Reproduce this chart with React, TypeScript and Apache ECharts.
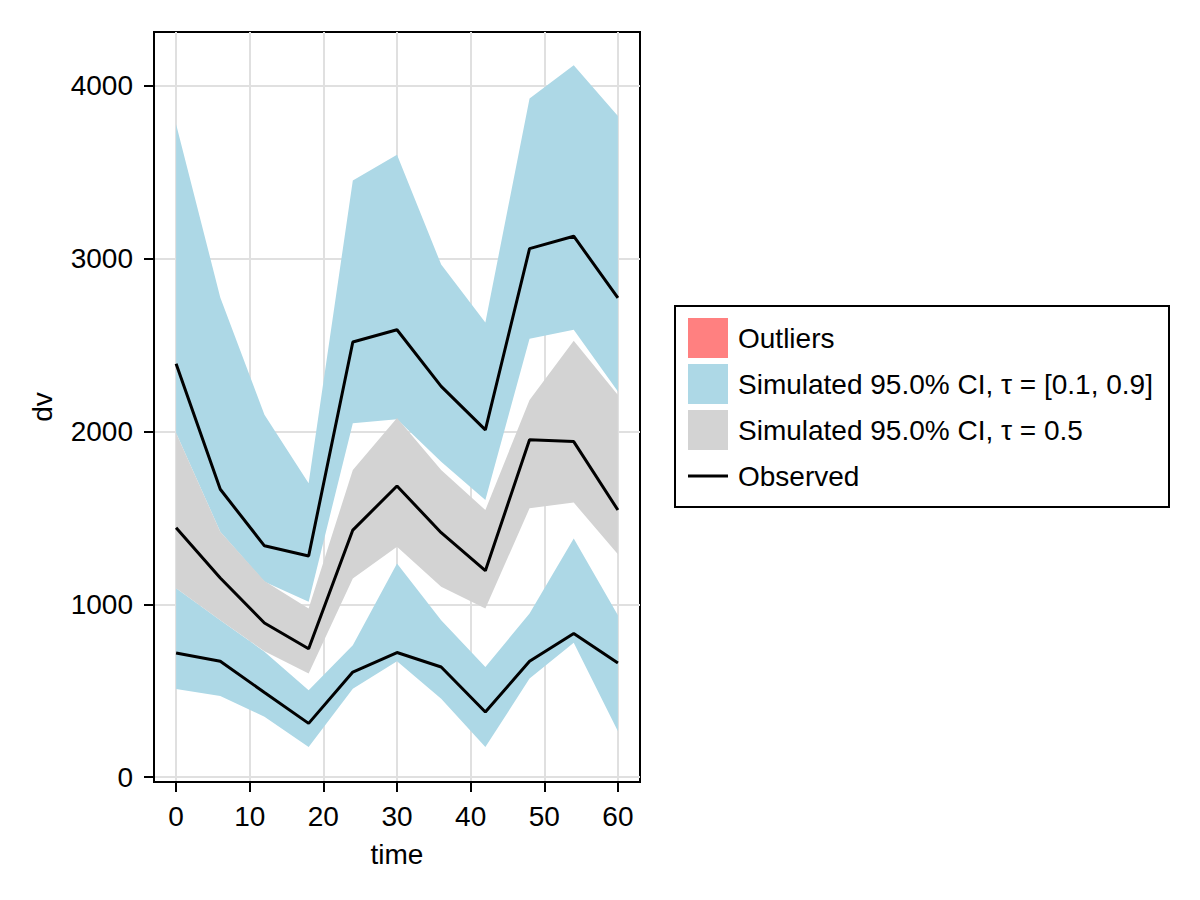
import { useEffect, useRef } from 'react';
import * as echarts from 'echarts';

// time points
const times = [0, 6, 12, 18, 24, 30, 36, 42, 48, 54, 60];

// simulated CI band, tau = 0.9
const hiBandLow = [1990, 1420, 1130, 1014, 2047, 2070, 1825, 1603, 2536, 2588, 2231];
const hiBandHigh = [3776, 2775, 2096, 1700, 3451, 3600, 2965, 2630, 3926, 4118, 3824];

// simulated CI band, tau = 0.5
const midBandLow = [1092, 908, 728, 599, 1149, 1333, 1101, 976, 1555, 1588, 1290];
const midBandHigh = [1990, 1420, 1135, 976, 1777, 2078, 1777, 1545, 2182, 2524, 2211];

// simulated CI band, tau = 0.1
const loBandLow = [510, 470, 350, 174, 512, 670, 454, 174, 570, 777, 265];
const loBandHigh = [1092, 908, 726, 502, 763, 1236, 908, 637, 947, 1381, 937];

// observed quantiles
const obsHigh = [2391, 1665, 1338, 1279, 2517, 2588, 2260, 2009, 3057, 3129, 2772];
const obsMid = [1443, 1152, 892, 743, 1429, 1684, 1414, 1194, 1951, 1941, 1545];
const obsLow = [718, 670, 490, 311, 608, 721, 637, 377, 670, 831, 661];

const xTicks = [0, 10, 20, 30, 40, 50, 60];
const yTicks = [0, 1000, 2000, 3000, 4000];

const legendLabels = [
  'Outliers',
  'Simulated 95.0% CI, τ = [0.1, 0.9]',
  'Simulated 95.0% CI, τ = 0.5',
  'Observed',
];

const BLUE = '#ADD8E6';
const GRAY = '#D3D3D3';
const RED = '#FF8080';
const FONT = 'Liberation Sans';
const FS = 28;

const pairs = (ys: number[]) => times.map((t, i) => [t, ys[i]]);

// filled band between lo and hi, drawn once as a polygon through the axes
const band = (name: string, lo: number[], hi: number[], color: string) => ({
  name,
  type: 'custom',
  silent: true,
  data: times.map((t, i) => [t, lo[i], hi[i]]),
  encode: { x: 0, y: [1, 2] },
  renderItem: (params: any, api: any) => {
    if (params.dataIndex !== 0) return null;
    const top = times.map((t, i) => api.coord([t, hi[i]]));
    const bottom = times.map((t, i) => api.coord([t, lo[i]])).reverse();
    return {
      type: 'polygon',
      shape: { points: [...top, ...bottom] },
      style: { fill: color },
    };
  },
});

const obsLine = (ys: number[]) => ({
  name: 'Observed',
  type: 'line',
  data: pairs(ys),
  symbol: 'none',
  lineStyle: { color: '#000', width: 3 },
});

export default function App() {
  const ref = useRef<HTMLDivElement>(null);

  useEffect(() => {
    if (!ref.current) return;
    const chart = echarts.init(ref.current, null, { renderer: 'svg' });
    const textStyle = { fontFamily: FONT, fontSize: FS, color: '#000' };
    const legendRows = [338, 384, 430, 476];

    chart.setOption({
      animation: false,
      textStyle: { fontFamily: FONT },
      grid: {
        left: 154,
        right: 560,
        top: 32,
        bottom: 118,
        show: true,
        borderColor: '#000',
        borderWidth: 2,
      },
      xAxis: {
        type: 'value',
        min: -3,
        max: 63,
        name: 'time',
        nameLocation: 'middle',
        nameGap: 58,
        nameTextStyle: textStyle,
        axisLine: { onZero: false, lineStyle: { color: '#000', width: 2 } },
        axisTick: { length: 10, customValues: xTicks, lineStyle: { color: '#000', width: 2 } },
        axisLabel: { ...textStyle, margin: 20, customValues: xTicks, formatter: (v: number) => String(v) },
        splitLine: { show: true, lineStyle: { color: '#E0E0E0', width: 2 } },
      },
      yAxis: {
        type: 'value',
        min: -28,
        max: 4310,
        name: 'dv',
        nameLocation: 'middle',
        nameGap: 98,
        nameTextStyle: textStyle,
        axisLine: { show: true, onZero: false, lineStyle: { color: '#000', width: 2 } },
        axisTick: { show: true, length: 10, customValues: yTicks, lineStyle: { color: '#000', width: 2 } },
        axisLabel: { ...textStyle, margin: 21, customValues: yTicks, formatter: (v: number) => String(v) },
        splitLine: { show: true, lineStyle: { color: '#E0E0E0', width: 2 } },
      },
      series: [
        band('q90', hiBandLow, hiBandHigh, BLUE),
        band('q10', loBandLow, loBandHigh, BLUE),
        band('q50', midBandLow, midBandHigh, GRAY),
        obsLine(obsHigh),
        obsLine(obsMid),
        obsLine(obsLow),
      ],
      graphic: [
        {
          type: 'rect',
          shape: { x: 675, y: 306, width: 494, height: 201 },
          style: { fill: '#fff', stroke: '#000', lineWidth: 2 },
        },
        ...[RED, BLUE, GRAY].map((c, i) => ({
          type: 'rect',
          shape: { x: 688, y: legendRows[i] - 20, width: 40, height: 40 },
          style: { fill: c },
        })),
        {
          type: 'line',
          shape: { x1: 688, y1: legendRows[3], x2: 728, y2: legendRows[3] },
          style: { stroke: '#000', lineWidth: 3 },
        },
        ...legendLabels.map((t, i) => ({
          type: 'text',
          x: 738,
          y: legendRows[i],
          style: {
            text: t,
            font: `${FS}px "${FONT}"`,
            fill: '#000',
            verticalAlign: 'middle',
          },
        })),
      ],
    });

    return () => chart.dispose();
  }, []);

  return (
    <div
      ref={ref}
      style={{ position: 'fixed', left: 0, top: 0, width: 1200, height: 900, background: '#fff' }}
    />
  );
}
